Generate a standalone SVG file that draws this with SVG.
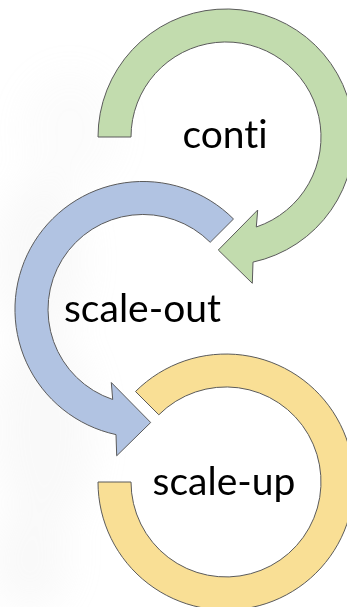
<svg xmlns="http://www.w3.org/2000/svg" width="347" height="607" viewBox="0 0 347 607">
  <defs>
    <style>
      .arrow { stroke: #5a5a5a; stroke-width: 1; stroke-linejoin: miter; }
      .green { fill: #C2DCAE; }
      .blue { fill: #B1C3E2; }
      .yellow { fill: #F9DF95; }
      .label { font-family: Lato, "Open Sans", "Liberation Sans", sans-serif; font-size: 39px; fill: #000; text-anchor: middle; font-variant-ligatures: none; }
    </style>
    <filter id="blur" x="-50%" y="-50%" width="200%" height="200%">
      <feGaussianBlur stdDeviation="18"/>
    </filter>
  </defs>
  <rect width="347" height="607" fill="#ffffff"/>
  <g id="background" filter="url(#blur)" fill="#d8d8d8" opacity="0.15">
    <ellipse cx="40" cy="260" rx="45" ry="80"/>
    <ellipse cx="45" cy="430" rx="50" ry="100"/>
    <ellipse cx="30" cy="560" rx="40" ry="50"/>
    <ellipse cx="70" cy="130" rx="50" ry="60" opacity="0.5"/>
  </g>
  <g id="connectors"></g>
  <g id="node-conti">
    <path class="arrow green" d="M 98 137 A 128 128 0 1 1 253 262.1 L 252.3 283.3 L 218.3 250 L 257.7 210 L 256.3 227 A 95 95 0 1 0 131 137 Z"/>
    <text class="label" x="225" y="148">conti</text>
  </g>
  <g id="node-scale-out">
    <path class="arrow blue" d="M 233.5 219 A 128 128 0 1 0 116 434.6 L 116.7 455.8 L 150.7 422.5 L 111.3 382.5 L 112.7 399.5 A 95 95 0 1 1 210.2 242.3 Z"/>
    <text class="label" x="142.5" y="322">scale-out</text>
  </g>
  <g id="node-scale-up">
    <path class="arrow yellow" d="M 98 482 A 128 128 0 1 0 135.5 391.5 L 158.8 414.8 A 95 95 0 1 1 131 482 Z"/>
    <text class="label" x="224" y="495">scale-up</text>
  </g>
</svg>
